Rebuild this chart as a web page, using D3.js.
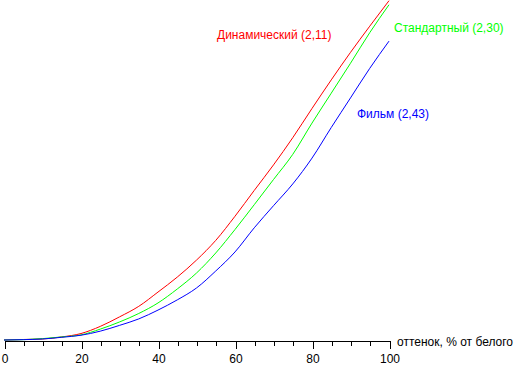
<!DOCTYPE html>
<html>
<head>
<meta charset="utf-8">
<script src="https://cdn.jsdelivr.net/npm/d3@7"></script>
<style>
  html, body { margin: 0; padding: 0; background: #fff; }
  svg { display: block; font-family: "Liberation Sans", Arial, sans-serif; }
</style>
</head>
<body>
<svg id="chart" width="519" height="366"></svg>
<script>
// shade, % of white
const shades = [0, 5, 10, 15, 20, 25, 30, 35, 40, 45, 50, 55, 60, 65, 70, 75, 80, 85, 90, 95, 100];
// relative brightness
const dynamic  = [0, 0.15, 0.3, 0.9, 1.9, 4.0, 6.8, 9.9, 14.1, 18.5, 23.5, 29.3, 36.4, 44.0, 51.5, 59.5, 68.1, 76.5, 84.6, 92.3, 99.8];
const standard = [0, 0.1, 0.4, 0.9, 1.5, 3.2, 5.3, 7.8, 10.9, 15.0, 19.7, 25.6, 32.5, 39.8, 47.2, 54.6, 63.8, 72.6, 81.4, 90.4, 98.6];
const film     = [0, 0.1, 0.3, 0.8, 1.4, 2.6, 4.3, 6.2, 8.8, 11.8, 15.3, 20.3, 25.9, 33.0, 39.5, 45.9, 53.5, 62.5, 71.2, 79.9, 87.9];

const seriesNames  = ['Динамический (2,11)', 'Стандартный (2,30)', 'Фильм (2,43)'];
const seriesColors = ['#ff0000', '#00ff00', '#0000ff'];
const majorTicks = [0, 20, 40, 60, 80, 100];
const minorTicks = d3.range(0, 101, 5);
const axisTitle = 'оттенок, % от белого';

const svg = d3.select('#chart');
const x = d3.scaleLinear().domain([0, 100]).range([4, 389]);
const y = d3.scaleLinear().domain([0, 100]).range([340, 0]);

// Axis: minor ticks, then major ticks with labels
const axisG = svg.append('g').attr('transform', 'translate(0.5,340.5)');
axisG.call(d3.axisBottom(x).tickValues(minorTicks).tickSize(5).tickSizeOuter(0).tickFormat(''));
const majorG = svg.append('g').attr('transform', 'translate(0.5,340.5)');
majorG.call(d3.axisBottom(x).tickValues(majorTicks).tickSize(8).tickSizeOuter(0).tickFormat(d3.format('d')));
majorG.select('.domain').remove();
svg.selectAll('.tick line').attr('stroke', '#000').attr('shape-rendering', 'crispEdges');
axisG.select('.domain').attr('stroke', '#000').attr('shape-rendering', 'crispEdges');
majorG.selectAll('text')
  .attr('y', 22.5).attr('dy', 0)
  .attr('fill', '#000')
  .attr('font-size', 12)
  .attr('font-family', '"Liberation Sans", Arial, sans-serif');

svg.append('text')
  .attr('x', 397).attr('y', 346)
  .attr('font-size', 12)
  .attr('fill', '#000')
  .text(axisTitle);

// Curves
const line = d3.line()
  .x((d, i) => x(shades[i]))
  .y(d => y(d))
  .curve(d3.curveMonotoneX);
[dynamic, standard, film].forEach((vals, k) => {
  svg.append('path')
    .datum(vals)
    .attr('d', line)
    .attr('fill', 'none')
    .attr('stroke', seriesColors[k])
    .attr('stroke-width', 1);
});

// Series labels
const labelPos = [[217, 39], [394, 32], [357, 118]];
seriesNames.forEach((name, k) => {
  svg.append('text')
    .attr('x', labelPos[k][0]).attr('y', labelPos[k][1])
    .attr('font-size', 12)
    .attr('fill', seriesColors[k])
    .text(name);
});
</script>
</body>
</html>
